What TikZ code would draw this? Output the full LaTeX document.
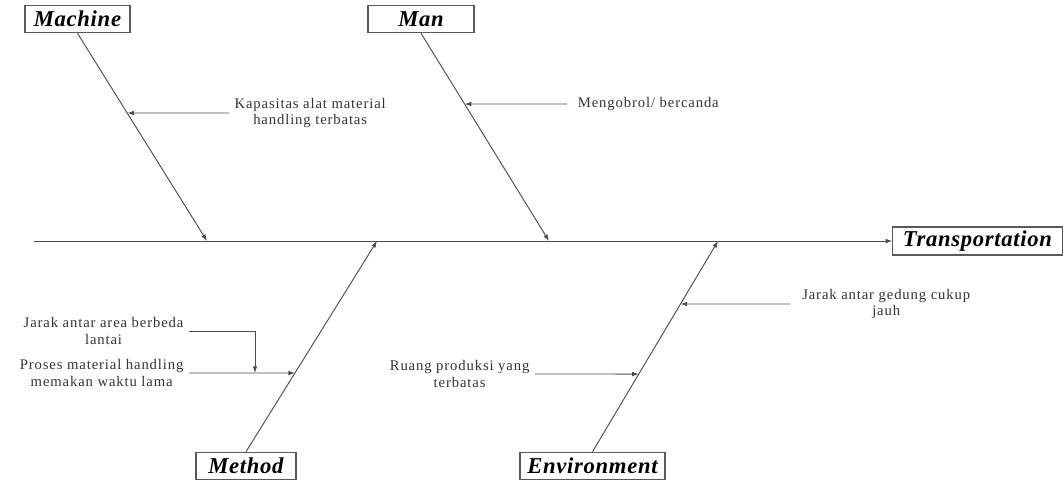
\documentclass[tikz,border=0pt]{standalone}
\usepackage{fontspec}
\setmainfont{Liberation Serif}
\newfontfamily\headfont[LetterSpace=3]{Liberation Serif}
\newfontfamily\notefont[LetterSpace=6]{Liberation Serif}
\usepackage{xcolor}
\usepackage{tikz}
\usetikzlibrary{arrows.meta}
\usetikzlibrary{calc}

\tikzset{
    bone/.style={draw=black!70, line width=0.7pt},
    sub/.style={bone, -{Latex[length=5pt,width=3.5pt]}},
    cause/.style={draw=black!65, line width=0.9pt, minimum height=20.5pt, inner sep=0.5pt,
        font=\headfont\fontsize{17}{18}\selectfont\bfseries\itshape},
    note/.style={align=center, text=black!80, inner xsep=4pt,
        font=\notefont\fontsize{11}{12.5}\selectfont},
}

\begin{document}
\begin{tikzpicture}[x=0.75pt, y=-0.75pt]
    \useasboundingbox (0,0) rectangle (1064,479);

    \node[cause, minimum width=78.75pt] (mach) at (77.5,19) {Machine};
    \node[cause, minimum width=79.5pt] (man) at (421,19) {Man};
    \node[cause, minimum width=75pt] (meth) at (246,466) {Method};
    \node[cause, minimum width=108.75pt] (env) at (592.5,466) {Environment};
    \node[cause, minimum width=127pt, minimum height=21pt] (trans) at (977.5,241) {Transportation};

    \coordinate (tail) at (34,241);
    \coordinate (mhead) at (207,241);
    \coordinate (nhead) at (549,241);
    \coordinate (dhead) at (377,241);
    \coordinate (ehead) at (718,241);
    \coordinate (jdrop) at (255,0);

    \draw[sub] (tail) -- (trans.west);
    \draw[sub] (mach.south) -- (mhead);
    \draw[sub] (man.south) -- (nhead);
    \draw[sub] (meth.north) -- (dhead);
    \draw[sub] (env.north) -- (ehead);

    \node[note, anchor=west] (kap) at (229,113) {Kapasitas alat material\\handling terbatas};
    \node[note, anchor=west, inner xsep=8pt] (mng) at (567,104) {Mengobrol/ bercanda};
    \node[note, anchor=west, inner xsep=9pt] (ged) at (790,304) {Jarak antar gedung cukup\\jauh};
    \node[note, anchor=east] (ruang) at (535,374) {Ruang produksi yang\\terbatas};
    \node[note, anchor=east] (prs) at (189,373) {Proses material handling\\memakan waktu lama};
    \node[note, anchor=east] (jrk) at (189,331) {Jarak antar area berbeda\\lantai};

    \draw[sub] (kap.west) -- (intersection of mach.south--mhead and kap.west--kap.east);
    \draw[sub] (mng.west) -- (intersection of man.south--nhead and mng.west--mng.east);
    \draw[sub] (jrk.east) -| (jdrop |- prs.east);
    \draw[sub] (prs.east) -- (intersection of meth.north--dhead and prs.west--prs.east);
    \draw[sub] (ruang.east) -- (intersection of env.north--ehead and ruang.west--ruang.east);
    \draw[sub] (ged.west) -- (intersection of env.north--ehead and ged.west--ged.east);
\end{tikzpicture}
\end{document}
